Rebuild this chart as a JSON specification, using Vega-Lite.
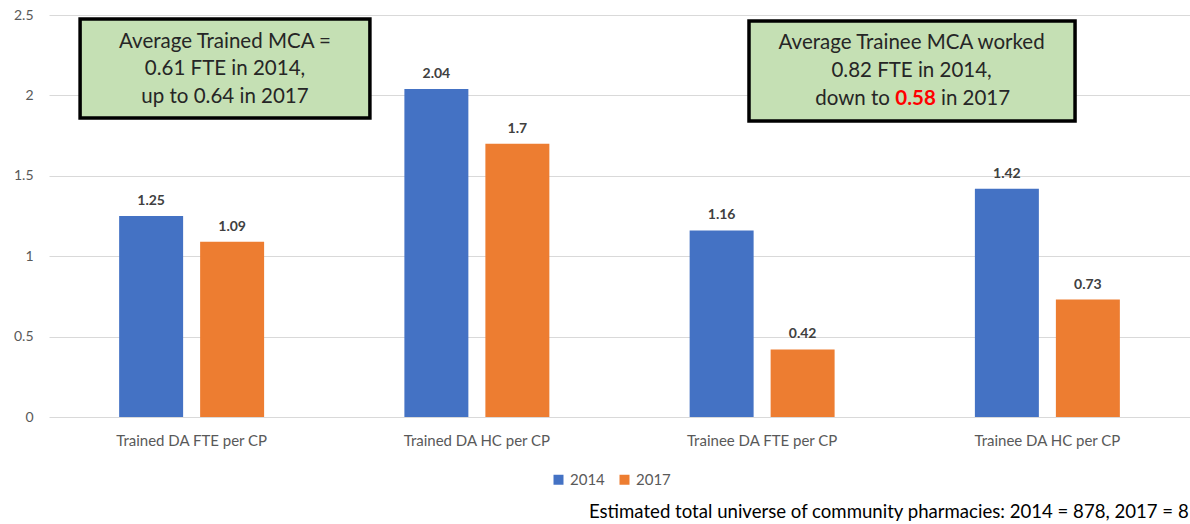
{
  "$schema": "https://vega.github.io/schema/vega-lite/v6.json",
  "width": 1141,
  "height": 402,
  "autosize": {"type": "none"},
  "padding": {"left": 49, "top": 15, "right": 0, "bottom": 107},
  "background": "white",
  "config": {"view": {"stroke": null}, "font": "Lato"},
  "datasets": {
    "bars": [
      {"measure": "Trained DA FTE per CP", "year": "2014", "value": 1.25, "label": "1.25"},
      {"measure": "Trained DA FTE per CP", "year": "2017", "value": 1.09, "label": "1.09"},
      {"measure": "Trained DA HC per CP", "year": "2014", "value": 2.04, "label": "2.04"},
      {"measure": "Trained DA HC per CP", "year": "2017", "value": 1.7, "label": "1.7"},
      {"measure": "Trainee DA FTE per CP", "year": "2014", "value": 1.16, "label": "1.16"},
      {"measure": "Trainee DA FTE per CP", "year": "2017", "value": 0.42, "label": "0.42"},
      {"measure": "Trainee DA HC per CP", "year": "2014", "value": 1.42, "label": "1.42"},
      {"measure": "Trainee DA HC per CP", "year": "2017", "value": 0.73, "label": "0.73"}
    ],
    "boxes": [
      {"x1": 0.109, "x2": 1.125, "y1": 2.475, "y2": 1.86},
      {"x1": 2.454, "x2": 3.597, "y1": 2.463, "y2": 1.841}
    ],
    "notes": [
      {"u": 0.617, "v": 2.332, "text": "Average Trained MCA =", "align": "center"},
      {"u": 0.617, "v": 2.164, "text": "0.61 FTE in 2014,", "align": "center"},
      {"u": 0.617, "v": 1.99, "text": "up to 0.64 in 2017", "align": "center"},
      {"u": 3.024, "v": 2.326, "text": "Average Trainee MCA worked", "align": "center"},
      {"u": 3.024, "v": 2.152, "text": "0.82 FTE in 2014,", "align": "center"},
      {"u": 2.948, "v": 1.978, "text": "down to", "align": "right"},
      {"u": 3.127, "v": 1.978, "text": "in 2017", "align": "left"}
    ],
    "highlight": [
      {"u": 3.038, "v": 1.978, "text": "0.58"}
    ],
    "footnote": [
      {"u": 1.893, "v": -0.591, "text": "Estimated total universe of community pharmacies:  2014 = 878, 2017 = 8"}
    ]
  },
  "layer": [
    {
      "data": {"name": "bars"},
      "encoding": {
        "x": {
          "field": "measure",
          "type": "nominal",
          "sort": null,
          "scale": {"paddingInner": 0, "paddingOuter": 0},
          "axis": {
            "title": null,
            "labelAngle": 0,
            "ticks": false,
            "domain": false,
            "labelPadding": 16,
            "labelFontSize": 15,
            "labelColor": "#595959"
          }
        },
        "xOffset": {
          "field": "year",
          "type": "nominal",
          "scale": {"paddingInner": 0.21, "paddingOuter": 0.866}
        },
        "y": {
          "field": "value",
          "type": "quantitative",
          "scale": {"domain": [0, 2.5], "nice": false},
          "axis": {
            "title": null,
            "values": [0, 0.5, 1, 1.5, 2, 2.5],
            "format": ".1~f",
            "ticks": false,
            "domain": false,
            "grid": true,
            "gridColor": "#D9D9D9",
            "gridWidth": 1,
            "labelPadding": 16,
            "labelFontSize": 14,
            "labelColor": "#595959"
          }
        }
      },
      "layer": [
        {
          "mark": {"type": "bar"},
          "encoding": {
            "color": {
              "field": "year",
              "type": "nominal",
              "scale": {"domain": ["2014", "2017"], "range": ["#4472C4", "#ED7D31"]},
              "legend": {
                "title": null,
                "orient": "none",
                "direction": "horizontal",
                "legendX": 502,
                "legendY": 457,
                "symbolType": "square",
                "symbolSize": 100,
                "labelFontSize": 15,
                "labelColor": "#595959",
                "labelOffset": 4,
                "columnPadding": 12
              }
            }
          }
        },
        {
          "mark": {
            "type": "text",
            "baseline": "bottom",
            "dy": -8,
            "fontSize": 14,
            "fontWeight": "bold",
            "color": "#404040"
          },
          "encoding": {"text": {"field": "label", "type": "nominal"}}
        }
      ]
    },
    {
      "encoding": {
        "x": {"field": "u", "type": "quantitative", "scale": {"domain": [0, 4], "nice": false, "zero": false}, "axis": null},
        "y": {"field": "v", "type": "quantitative"},
        "text": {"field": "text", "type": "nominal"}
      },
      "layer": [
        {
          "data": {"name": "boxes"},
          "mark": {"type": "rect", "fill": "#C5E0B4", "stroke": "#000000", "strokeWidth": 3.5},
          "encoding": {
            "x": {"field": "x1", "type": "quantitative"},
            "x2": {"field": "x2"},
            "y": {"field": "y1", "type": "quantitative"},
            "y2": {"field": "y2"},
            "text": null
          }
        },
        {
          "data": {"name": "notes"},
          "transform": [{"filter": "datum.align === 'center'"}],
          "mark": {"type": "text", "baseline": "middle", "align": "center", "fontSize": 20.5, "color": "#262626"}
        },
        {
          "data": {"name": "notes"},
          "transform": [{"filter": "datum.align === 'right'"}],
          "mark": {"type": "text", "baseline": "middle", "align": "right", "fontSize": 20.5, "color": "#262626"}
        },
        {
          "data": {"name": "notes"},
          "transform": [{"filter": "datum.align === 'left'"}],
          "mark": {"type": "text", "baseline": "middle", "align": "left", "fontSize": 20.5, "color": "#262626"}
        },
        {
          "data": {"name": "highlight"},
          "mark": {"type": "text", "baseline": "middle", "align": "center", "fontSize": 20.5, "fontWeight": "bold", "color": "#FF0000"}
        },
        {
          "data": {"name": "footnote"},
          "mark": {"type": "text", "baseline": "middle", "align": "left", "fontSize": 18.6, "color": "#000000"}
        }
      ]
    }
  ],
  "resolve": {"scale": {"x": "independent"}}
}
